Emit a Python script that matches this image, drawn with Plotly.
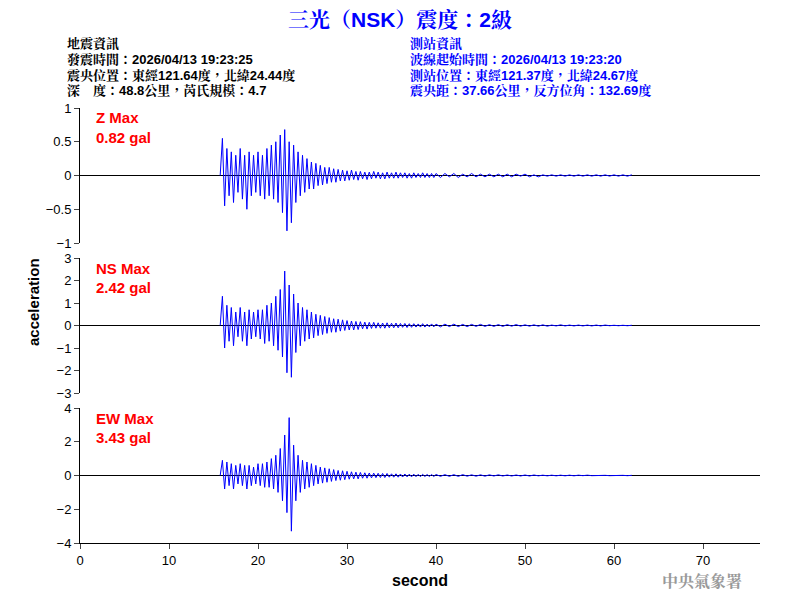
import plotly.graph_objects as go
from plotly.subplots import make_subplots

# peak values, 0.25 s apart starting at 15.75 s, then 0.5 s apart in the tail
z_start = 15.75
z_main = [0, 0.55, -0.45, 0.4, -0.3, 0.35, -0.4, 0.3, -0.25,
          0.4, -0.35, 0.3, -0.5, 0.35, -0.3, 0.3, -0.25,
          0.35, -0.3, 0.3, -0.35, 0.4, -0.3, 0.45, -0.35,
          0.5, -0.4, 0.6, -0.55, 0.68, -0.82, 0.5, -0.7,
          0.45, -0.4, 0.35, -0.3, 0.3, -0.25, 0.25, -0.2,
          0.2, -0.2, 0.18, -0.15, 0.15, -0.14, 0.12, -0.12,
          0.12, -0.1, 0.1, -0.1, 0.09, -0.08, 0.08, -0.08,
          0.07, -0.07, 0.08, -0.06, 0.06, -0.07, 0.06, -0.05,
          0.05, -0.06, 0.05, -0.05, 0.06, -0.04, 0.05, -0.05,
          0.04, -0.05, 0.05, -0.04, 0.04, -0.04, 0.05, -0.04,
          0.04, -0.03, 0.04, -0.04, 0.03, -0.04, 0.04, -0.03,
          0.03, -0.03, 0.04, -0.03, 0.03, -0.03, 0.03, -0.03]
z_tail = [0.03, -0.03, 0.03, -0.02, 0.03, -0.03, 0.02, -0.02, 0.03, -0.02,
          0.02, -0.02, 0.02, -0.02, 0.02, -0.02, 0.02, -0.02, 0.02, -0.01,
          0.02, -0.02, 0.01, -0.02, 0.01, -0.01, 0.01, -0.01, 0.01, -0.01,
          0.01, -0.01, 0.01, -0.01, 0.01, -0.01, 0.01, -0.01, 0.01, -0.01,
          0.01, -0.01, 0.01, -0.01, 0.01]

ns_main = [0, 1.3, -1.0, 0.9, -0.7, 0.8, -0.9, 0.6, -0.5,
           0.8, -0.7, 0.6, -0.9, 0.7, -0.6, 0.6, -0.5,
           0.7, -0.6, 0.7, -0.8, 0.9, -0.7, 1.0, -0.9,
           1.3, -1.1, 1.6, -1.4, 2.42, -2.1, 1.8, -2.3,
           1.4, -1.2, 1.0, -0.9, 0.8, -0.7, 0.7, -0.6,
           0.6, -0.55, 0.5, -0.45, 0.45, -0.4, 0.4, -0.35,
           0.35, -0.3, 0.3, -0.3, 0.28, -0.25, 0.25, -0.22,
           0.22, -0.2, 0.2, -0.2, 0.18, -0.18, 0.17, -0.15,
           0.15, -0.16, 0.14, -0.13, 0.14, -0.12, 0.12, -0.12,
           0.11, -0.12, 0.12, -0.1, 0.1, -0.1, 0.11, -0.1,
           0.09, -0.08, 0.09, -0.09, 0.08, -0.08, 0.08, -0.07,
           0.07, -0.07, 0.08, -0.07, 0.06, -0.06, 0.07, -0.06]
ns_tail = [0.06, -0.06, 0.06, -0.05, 0.06, -0.05, 0.05, -0.05, 0.05, -0.04,
           0.05, -0.04, 0.04, -0.04, 0.04, -0.04, 0.04, -0.03, 0.04, -0.03,
           0.03, -0.03, 0.03, -0.03, 0.03, -0.03, 0.02, -0.02, 0.03, -0.02,
           0.02, -0.02, 0.02, -0.02, 0.02, -0.02, 0.02, -0.02, 0.02, -0.01,
           0.01, -0.01, 0.01, -0.01, 0.01]

ew_main = [0, 0.9, -0.8, 0.8, -0.6, 0.7, -0.8, 0.6, -0.5,
           0.7, -0.6, 0.6, -0.8, 0.6, -0.6, 0.5, -0.5,
           0.7, -0.6, 0.7, -0.7, 0.8, -0.7, 1.0, -0.8,
           1.2, -1.0, 1.6, -1.5, 2.4, -2.2, 3.43, -3.3,
           1.8, -1.5, 1.2, -1.0, 0.9, -0.8, 0.8, -0.7,
           0.7, -0.6, 0.6, -0.5, 0.5, -0.45, 0.45, -0.4,
           0.4, -0.35, 0.35, -0.3, 0.3, -0.28, 0.28, -0.25,
           0.25, -0.22, 0.22, -0.2, 0.2, -0.2, 0.18, -0.16,
           0.16, -0.16, 0.15, -0.14, 0.14, -0.13, 0.13, -0.12,
           0.12, -0.12, 0.12, -0.1, 0.1, -0.1, 0.1, -0.1,
           0.09, -0.09, 0.09, -0.08, 0.08, -0.08, 0.08, -0.07,
           0.07, -0.07, 0.07, -0.06, 0.06, -0.06, 0.06, -0.06]
ew_tail = [0.06, -0.05, 0.05, -0.05, 0.05, -0.05, 0.05, -0.04, 0.04, -0.04,
           0.04, -0.04, 0.04, -0.03, 0.04, -0.03, 0.03, -0.03, 0.03, -0.03,
           0.03, -0.03, 0.03, -0.02, 0.02, -0.02, 0.02, -0.02, 0.02, -0.02,
           0.02, -0.02, 0.02, -0.01, 0.02, -0.01, 0.01, -0.01, 0.01, -0.01,
           0.01, -0.01, 0.01, -0.01, 0.01]

channels = ["Z", "NS", "EW"]
max_gal = ["0.82", "2.42", "3.43"]
y_ranges = [[-1, 1], [-3, 3], [-4, 4]]
y_ticks = [[-1, -0.5, 0, 0.5, 1], [-3, -2, -1, 0, 1, 2, 3], [-4, -2, 0, 2, 4]]


def build(main, tail):
    t = [z_start + 0.25 * i for i in range(len(main))]
    t0 = t[-1] + 0.25
    t += [t0 + 0.5 * i for i in range(len(tail))]
    return t, main + tail


fig = make_subplots(rows=3, cols=1, shared_xaxes=True, vertical_spacing=0.0345)
for i, (m, tl) in enumerate([(z_main, z_tail), (ns_main, ns_tail), (ew_main, ew_tail)]):
    t, v = build(m, tl)
    r = i + 1
    fig.add_trace(go.Scatter(x=[0, 76.4], y=[0, 0], mode="lines",
                             line=dict(color="black", width=1), showlegend=False), row=r, col=1)
    fig.add_trace(go.Scatter(x=t, y=v, mode="lines",
                             line=dict(color="#0000ff", width=1), showlegend=False), row=r, col=1)
    fig.update_yaxes(range=y_ranges[i], tickvals=y_ticks[i], row=r, col=1)

fig.update_xaxes(range=[0, 76.4], showgrid=False, zeroline=False, showline=False,
                 ticks="", showticklabels=False, automargin=False)
fig.update_xaxes(showline=True, linecolor="black", ticks="outside", ticklen=5,
                 tickvals=[0, 10, 20, 30, 40, 50, 60, 70], showticklabels=True,
                 title=dict(text="<b>second</b>", font=dict(size=16, color="black"), standoff=8),
                 row=3, col=1)
fig.update_yaxes(showgrid=False, zeroline=False, showline=True, linecolor="black",
                 ticks="outside", ticklen=5, automargin=False, tickfont=dict(size=13))

# page body adds 8px, so margins are 8px smaller than the reference positions
fig.update_layout(
    width=800, height=600, plot_bgcolor="white", paper_bgcolor="white",
    margin=dict(l=72, r=48, t=100, b=65),
    font=dict(family="Liberation Sans", size=13, color="black"),
)


def px(x, y):
    return (x - 80) / 680, (543 - y) / 435


ann = []
cjk = "Liberation Sans, Noto Serif CJK TC, Noto Sans CJK TC"
x, y = px(400, 20)
ann.append(dict(x=x, y=y, text="<b>三光（NSK）震度：2級</b>", font=dict(size=21, color="#0000ff", family=cjk)))
left = ["地震資訊", "發震時間：2026/04/13 19:23:25", "震央位置：東經121.64度，北緯24.44度",
        "深　度：48.8公里，芮氏規模：4.7"]
right = ["測站資訊", "波線起始時間：2026/04/13 19:23:20", "測站位置：東經121.37度，北緯24.67度",
         "震央距：37.66公里，反方位角：132.69度"]
for k in range(4):
    x, y = px(65, 43 + 16 * k)
    ann.append(dict(x=x, y=y, text="<b>" + left[k] + "</b>", xanchor="left",
                    font=dict(size=13, color="black", family=cjk)))
    x, y = px(408, 43 + 16 * k)
    ann.append(dict(x=x, y=y, text="<b>" + right[k] + "</b>", xanchor="left",
                    font=dict(size=13, color="#0000ff", family=cjk)))
for k in range(3):
    x, y = px(94, 118 + 150 * k)
    ann.append(dict(x=x, y=y, text="<b>%s Max</b>" % channels[k], xanchor="left",
                    font=dict(size=15, color="#ff0000")))
    x, y = px(94, 137 + 150 * k)
    ann.append(dict(x=x, y=y, text="<b>%s gal</b>" % max_gal[k], xanchor="left",
                    font=dict(size=15, color="#ff0000")))
x, y = px(33, 302)
ann.append(dict(x=x, y=y, text="<b>acceleration</b>", textangle=-90, font=dict(size=15)))
x, y = px(702, 580)
ann.append(dict(x=x, y=y, text="<b>中央氣象署</b>", font=dict(size=16, color="#999999",
                                                            family="Noto Serif CJK TC, Noto Sans CJK TC")))
for a in ann:
    a.update(xref="paper", yref="paper", showarrow=False)
    a.setdefault("xanchor", "center")
    a["yanchor"] = "middle"
fig.update_layout(annotations=ann)

fig.write_html("out.html")
